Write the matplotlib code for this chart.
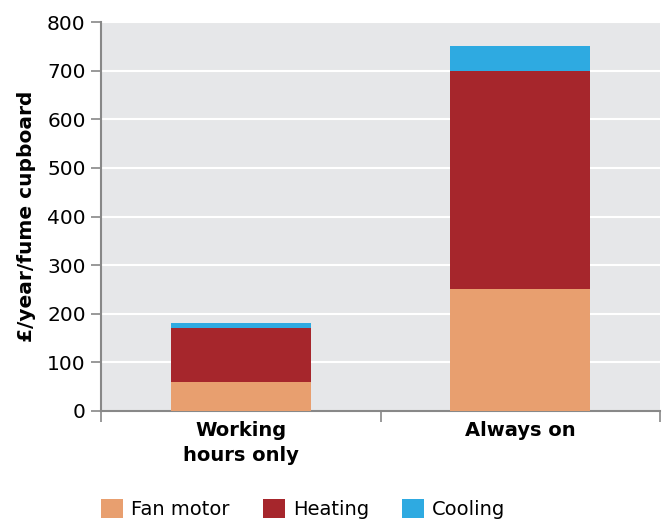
import matplotlib.pyplot as plt
from matplotlib.ticker import FixedLocator

# datos
categories = ['Working\nhours only', 'Always on']
fan_motor = [60, 250]
heating = [110, 450]
cooling = [10, 50]
series_labels = ['Fan motor', 'Heating', 'Cooling']
colors = ['#E89F6F', '#A6262C', '#2EAAE1']
y_ticks = [0, 100, 200, 300, 400, 500, 600, 700, 800]

plt.rcParams['font.family'] = ['DejaVu Sans']

fig = plt.figure(figsize=(6.63, 5.2), dpi=100)
ax = fig.add_axes([101 / 663, 1 - 411 / 520, 559 / 663, 389 / 520])
ax.set_facecolor('#E6E7E9')

x = list(range(len(categories)))
bottom2 = [a + b for a, b in zip(fan_motor, heating)]
ax.bar(x, fan_motor, width=0.5, color=colors[0], label=series_labels[0], zorder=3)
ax.bar(x, heating, width=0.5, bottom=fan_motor, color=colors[1], label=series_labels[1], zorder=3)
ax.bar(x, cooling, width=0.5, bottom=bottom2, color=colors[2], label=series_labels[2], zorder=3)

ax.set_xlim(-0.5, 1.5)
ax.set_ylim(0, 800)
ax.set_yticks(y_ticks)
ax.yaxis.grid(True, color='white', linewidth=1.5, zorder=1)
ax.set_axisbelow(True)

ax.set_xticks(x)
ax.set_xticklabels(categories, fontsize=14, fontweight='bold', linespacing=1.4)
ax.xaxis.set_minor_locator(FixedLocator([-0.5, 0.5, 1.5]))
ax.tick_params(axis='x', which='major', length=0, pad=7)
ax.tick_params(axis='x', which='minor', length=8, color='#888888', width=1.2)
ax.tick_params(axis='y', length=7, color='#888888', width=1.2, labelsize=14.5, pad=4)

for s in ['top', 'right']:
    ax.spines[s].set_visible(False)
for s in ['left', 'bottom']:
    ax.spines[s].set_color('#888888')
    ax.spines[s].set_linewidth(1.5)

ax.set_ylabel('£/year/fume cupboard', fontsize=14.5, fontweight='bold', labelpad=8)

fig.legend(loc='lower left', bbox_to_anchor=(101 / 663, 0.002), ncol=3, frameon=False,
           fontsize=14, handlelength=1.15, handleheight=1.15, handletextpad=0.4,
           columnspacing=1.7, borderpad=0, borderaxespad=0)

fig.savefig('out.png', dpi=100)
